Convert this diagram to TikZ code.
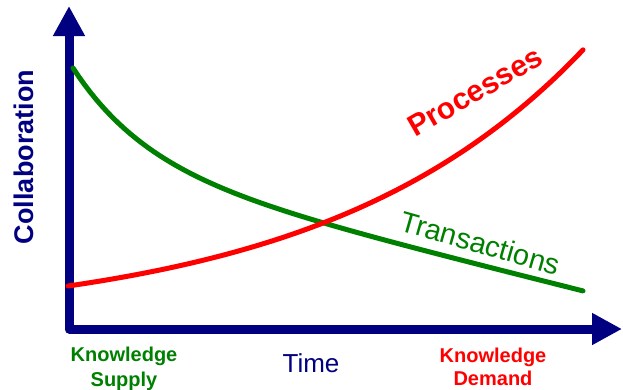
\documentclass[tikz,border=0pt]{standalone}
\usepackage{fontspec}
\setmainfont{Liberation Sans}
\usepackage{tikz}
\usetikzlibrary{arrows.meta}
\definecolor{axisblue}{RGB}{0,0,128}
\definecolor{supplygreen}{RGB}{0,128,0}
\definecolor{demandred}{RGB}{255,0,0}
\tikzset{x=1pt, y=-1pt,
axis/.style={ % Sets the properties for both axes
draw=axisblue,
line width=9pt,
line join=round,
{Triangle[length=30pt,width=30pt]}-{Triangle[length=30pt,width=30pt]}},
curve/.style={ % Sets the properties for each curve
line width=5pt,
line cap=round},
lbl/.style={inner sep=0pt, align=center}}

\begin{document}
\begin{tikzpicture}
\useasboundingbox (0,0) rectangle (623,389);
\coordinate (ytop) at (69,6);
\coordinate (origin) at (69,329);
\coordinate (xend) at (622,329);
\draw[axis] (ytop) -- (origin) -- (xend);
\draw[curve, supplygreen] plot[domain=73:583, samples=90] (\x, {68+95.5*(1-exp(-(\x-73)/74))+0.25*(\x-73)});
\draw[curve, demandred] plot[domain=68:583, samples=90] (\x, {286-37.8*(exp((\x-68)/260)-1)});
\node[lbl, text=axisblue, rotate=90, anchor=base, font=\fontsize{27}{32}\selectfont\bfseries] (collab) at (33,157) {Collaboration};
\node[lbl, text=axisblue, anchor=base, font=\fontsize{26}{30}\selectfont] (time) at (311,372) {Time};
\node[lbl, text=supplygreen, anchor=base, font=\fontsize{20}{25}\selectfont\bfseries] (supply) at (124,386) {Knowledge\\Supply};
\node[lbl, text=demandred, anchor=base, font=\fontsize{20}{23}\selectfont\bfseries] (demand) at (493,385) {Knowledge\\Demand};
\node[lbl, text=demandred, rotate=30, anchor=base west, font=\fontsize{30}{36}\selectfont\bfseries] (proc) at (415,138) {Processes};
\node[lbl, text=supplygreen, rotate=-16, anchor=base west, font=\fontsize{29}{34}\selectfont] (trans) at (398,230) {Transactions};
\end{tikzpicture}
\end{document}
